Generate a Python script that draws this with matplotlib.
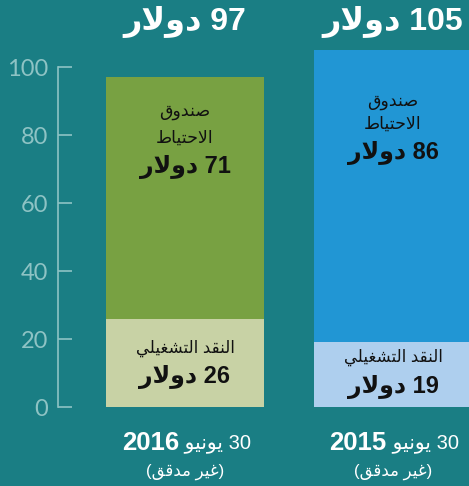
import matplotlib
matplotlib.use("Agg")
import matplotlib.pyplot as plt

# data (millions of dollars)
years = ["2016", "2015"]
operating_cash = [26, 19]
reserve_fund = [71, 86]
totals = [97, 105]

# Arabic text, pre-shaped (presentation forms, visual order) since matplotlib has no bidi
DOLLAR = "\uFEAD\uFEFB\uFEED\uFEA9"                      # دولار
FUND = "\uFED5\uFEED\uFEAA\uFEE8\uFEBB"                  # صندوق
RESERVE = "\uFEC1\uFE8E\uFEF4\uFE98\uFEA3\uFEFB\uFE8D"   # الاحتياط
CASH = "\uFEF2\uFEE0\uFEF4\uFED0\uFEB8\uFE98\uFEDF\uFE8D" + " " + "\uFEAA\uFED8\uFEE8\uFEDF\uFE8D"  # النقد التشغيلي
JUNE = "\uFEEE\uFEF4\uFEE7\uFEEE\uFEF3"                  # يونيو
UNAUDITED = "(" + "\uFED6\uFED7\uFEAA\uFEE3" + " " + "\uFEAE\uFEF4\uFECF" + ")"  # (غير مدقق)

bg = "#1a7e84"
tick_col = "#8ec3c4"
top_colors = ["#78a142", "#2196d4"]
bottom_colors = ["#c8d2a5", "#aecfee"]
fam = ["Liberation Sans", "DejaVu Sans"]
ink = "#111111"

fig = plt.figure(figsize=(4.69, 4.86), dpi=100, facecolor=bg)
ax = fig.add_axes([0, 0, 1, 1], facecolor=bg)

x = [0, 1]
w = 0.76
ax.bar(x, operating_cash, width=w, color=bottom_colors, zorder=2)
ax.bar(x, reserve_fund, width=w, bottom=operating_cash, color=top_colors, zorder=2)

ax.set_xlim(-185 / 208, 284 / 208)
ax.set_ylim(-79 / 3.4, 407 / 3.4)

# y axis
for s in ["top", "right", "bottom"]:
    ax.spines[s].set_visible(False)
ax.spines["left"].set_position(("data", -127 / 208))
ax.spines["left"].set_bounds(0, 100)
ax.spines["left"].set_color(tick_col)
ax.spines["left"].set_linewidth(1.2)
ax.set_yticks([0, 20, 40, 60, 80, 100])
ax.set_xticks([])
ax.tick_params(axis="y", direction="in", length=10, width=1.2, color=tick_col,
               labelcolor=tick_col, labelsize=17, pad=7)
for t in ax.get_yticklabels():
    t.set_fontfamily("Lato")

# texts
fund_y = [(86.5, 79.2, 70.6), (89.5, 83.3, 74.7)]
cash_y = [(17.4, 8.8), (14.7, 5.9)]
for i in range(2):
    ax.text(x[i], 113.2, DOLLAR + " " + str(totals[i]), ha="center", va="center",
            color="white", fontsize=23, fontweight="bold", family=fam)
    ax.text(x[i], fund_y[i][0], FUND, ha="center", va="center", fontsize=12.5, family=fam, color=ink)
    ax.text(x[i], fund_y[i][1], RESERVE, ha="center", va="center", fontsize=12.5, family=fam, color=ink)
    ax.text(x[i], fund_y[i][2], DOLLAR + " " + str(reserve_fund[i]), ha="center", va="center",
            fontsize=17, fontweight="bold", family=fam, color=ink)
    ax.text(x[i], cash_y[i][0], CASH, ha="center", va="center", fontsize=12, family=fam, color=ink)
    ax.text(x[i], cash_y[i][1], DOLLAR + " " + str(operating_cash[i]), ha="center", va="center",
            fontsize=17, fontweight="bold", family=fam, color=ink)
    ax.text(x[i] - 0.03, -10.6, years[i], ha="right", va="center", color="white",
            fontsize=18.5, fontweight="bold", family=fam)
    ax.text(x[i] - 0.03, -10.6, " " + JUNE + " 30", ha="left", va="center", color="white",
            fontsize=14.5, family=fam)
    ax.text(x[i], -19.1, UNAUDITED, ha="center", va="center", color="white", fontsize=12, family=fam)

fig.savefig("out.png", dpi=100, facecolor=bg)
